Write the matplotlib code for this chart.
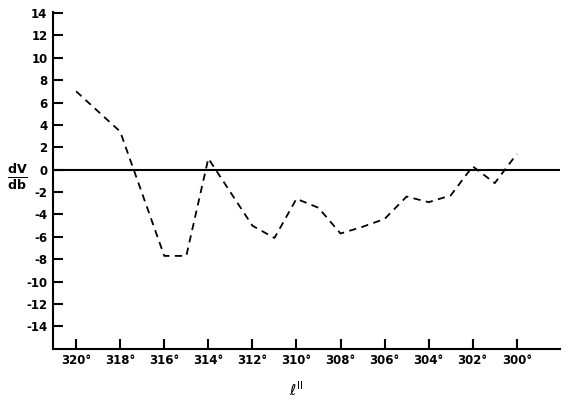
import matplotlib
matplotlib.use("Agg")
import matplotlib.pyplot as plt

# galactic longitude (deg) and dV/db
lon = [320, 318, 316, 315, 314, 312, 311, 310, 309, 308, 307, 306, 305, 304, 303, 302, 301, 300]
dvdb = [7.0, 3.4, -7.7, -7.7, 1.0, -5.0, -6.1, -2.6, -3.4, -5.7, -5.1, -4.4, -2.4, -2.9, -2.3, 0.3, -1.2, 1.4]

xticks = [320, 318, 316, 314, 312, 310, 308, 306, 304, 302, 300]
yticks = list(range(-14, 15, 2))

fig = plt.figure(figsize=(5.7, 4.08), dpi=100)
ax = fig.add_axes([0.093, 0.145, 0.889, 0.826])

ax.axhline(0, color='black', lw=1.5)
ax.plot(lon, dvdb, color='black', lw=1.3, ls=(0, (4, 3)))

ax.set_xlim(321.05, 298.05)
ax.set_ylim(-16, 14.1)
ax.set_xticks(xticks)
ax.set_xticklabels([f"{t}\u00b0" for t in xticks], fontsize=8.5, fontweight='bold')
ax.set_yticks(yticks)
ax.set_yticklabels([str(t) for t in yticks], fontsize=8.5, fontweight='bold')
ax.tick_params(direction='in', length=7, width=1.5, pad=4)

for s in ['top', 'right']:
    ax.spines[s].set_visible(False)
for s in ['left', 'bottom']:
    ax.spines[s].set_linewidth(1.5)

fig.text(0.03, 0.565, r'$\mathbf{\frac{dV}{db}}$', fontsize=13, ha='center', va='center')
fig.text(0.52, 0.045, r'$\ell^{\rm II}$', fontsize=11, ha='center', va='center')

fig.savefig("out.png", dpi=100)
